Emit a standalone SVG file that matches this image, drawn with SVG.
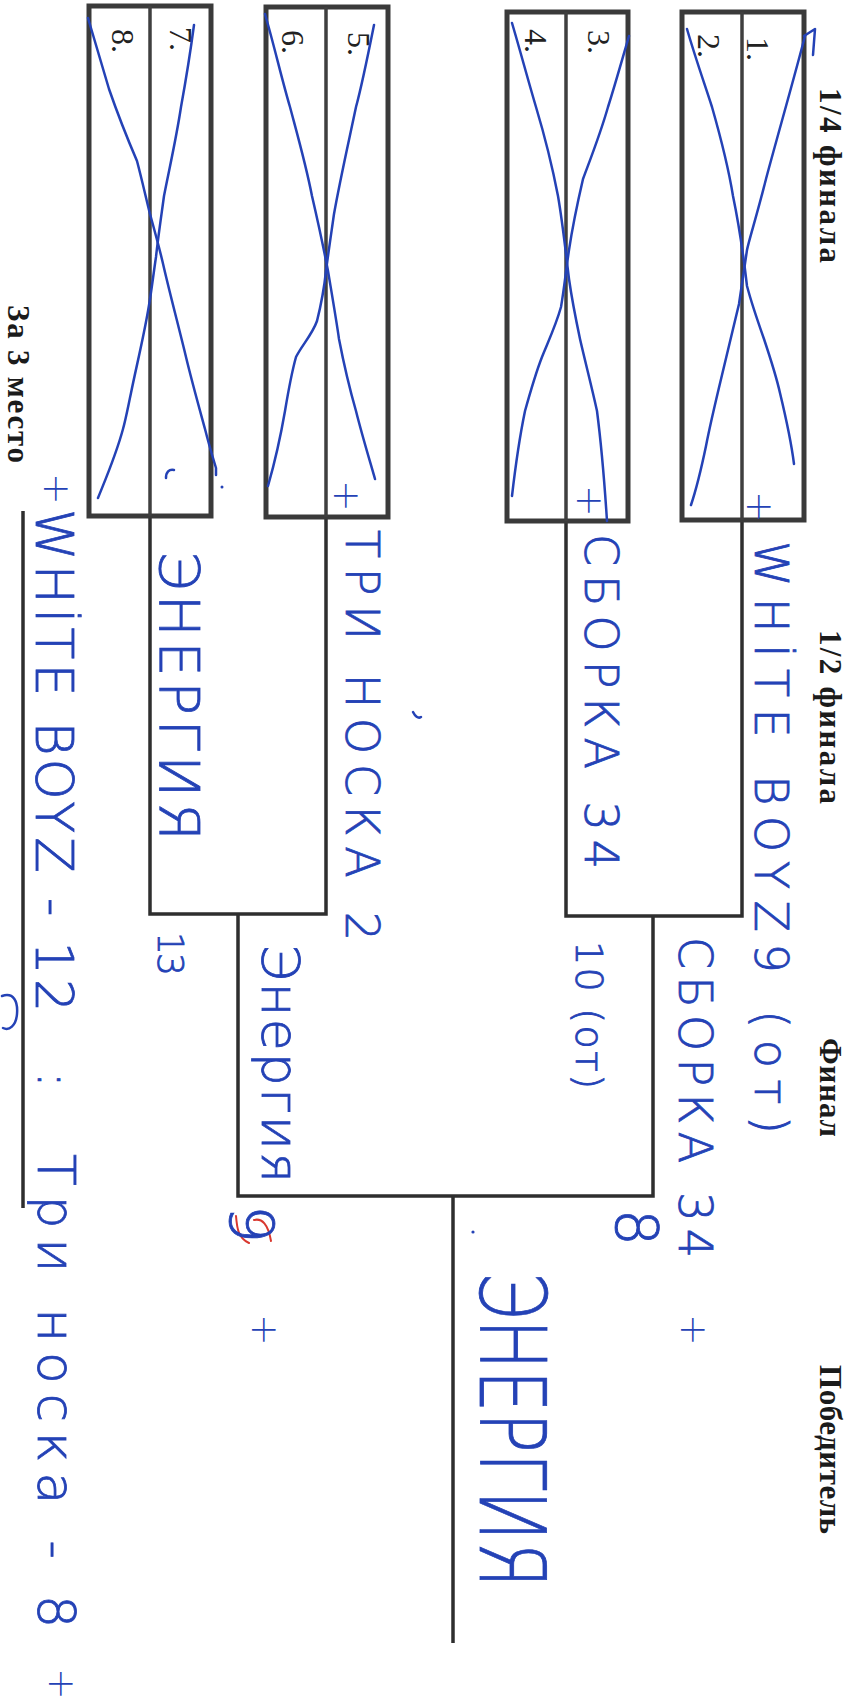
<svg xmlns="http://www.w3.org/2000/svg" width="858" height="1698" viewBox="0 0 858 1698">
<style>
.box{fill:none;stroke:#3a3a3a;stroke-width:5}
.dv{stroke:#3f3f3f;stroke-width:3.5}
.ln{fill:none;stroke:#2e2e2e;stroke-width:3.5}
.hdr{font-family:"Liberation Serif",serif;font-weight:bold;font-size:31px;fill:#1b1b1b}
.num{font-family:"Liberation Serif",serif;font-size:32px;fill:#222}
.hw{font-family:"DejaVu Sans","Liberation Sans",sans-serif;font-weight:200;fill:#2442b6;stroke:#2442b6;stroke-width:0.8}
.pl{font-family:"DejaVu Sans","Liberation Sans",sans-serif;font-weight:200;fill:#2442b6;font-size:38px}
.pen{fill:none;stroke:#2442b6;stroke-width:2.5;stroke-linecap:round;stroke-linejoin:round}
</style>
<rect width="858" height="1698" fill="#ffffff"/>

<g id="headers">
<text class="hdr" transform="translate(820,88) rotate(90)" textLength="175">1/4  финала</text>
<text class="hdr" transform="translate(820,630) rotate(90)" textLength="174">1/2  финала</text>
<text class="hdr" transform="translate(820,1038) rotate(90)" textLength="99">Финал</text>
<text class="hdr" transform="translate(820,1365) rotate(90)" textLength="169">Победитель</text>
<text class="hdr" transform="translate(8,305) rotate(90)" textLength="158">За  3 место</text>
</g>

<g id="connectors">
<polyline class="ln" points="742,520 742,916 566,916 566,521"/>
<polyline class="ln" points="326,517 326,914 150,914 150,516"/>
<polyline class="ln" points="653,916 653,1196 238,1196 238,914"/>
<line class="ln" x1="453" y1="1196" x2="453" y2="1643"/>
<line class="ln" x1="23" y1="511" x2="23" y2="1208"/>
</g>

<g id="match-1-2">
<rect class="box" x="682" y="12" width="122" height="508"/>
<line class="dv" x1="742" y1="12" x2="742" y2="520"/>
<text class="num" transform="translate(747,37) rotate(90)">1.</text>
<text class="num" transform="translate(698,34) rotate(90)">2.</text>
</g>
<g id="match-3-4">
<rect class="box" x="507" y="12" width="121" height="509"/>
<line class="dv" x1="566" y1="12" x2="566" y2="521"/>
<text class="num" transform="translate(588,30) rotate(90)">3.</text>
<text class="num" transform="translate(525,29) rotate(90)">4.</text>
</g>
<g id="match-5-6">
<rect class="box" x="266" y="7" width="122" height="510"/>
<line class="dv" x1="326" y1="7" x2="326" y2="517"/>
<text class="num" transform="translate(348,32) rotate(90)">5.</text>
<text class="num" transform="translate(282,30) rotate(90)">6.</text>
</g>
<g id="match-7-8">
<rect class="box" x="89" y="6" width="122" height="510"/>
<line class="dv" x1="150" y1="6" x2="150" y2="516"/>
<text class="num" transform="translate(170,27) rotate(90)">7.</text>
<text class="num" transform="translate(112,29) rotate(90)">8.</text>
</g>

<g id="pen-marks">
<path class="pen" d="M804,36 L815,29 L813,55"/>
<path class="pen" d="M805,36 C795,75 775,145 766,179 C757,215 749,240 747,250 C744,270 741,290 739,304 C733,330 727,355 722,375 C716,400 710,425 706,446 C701,470 696,490 691,505"/>
<path class="pen" d="M687,29 C696,60 705,85 712,107 C720,135 728,165 733,196 C739,225 744,260 747,286 C752,305 758,322 764,339 C770,357 776,375 780,393 C786,418 791,440 794,464"/>
<path class="pen" d="M629,36 C622,60 615,85 608,107 C600,135 590,160 583,179 C577,205 572,230 569,250 C566,270 564,290 561,307 C556,325 548,342 542,357 C535,375 530,393 525,411 C519,440 515,470 512,496"/>
<path class="pen" d="M512,23 C520,50 528,80 536,107 C545,137 552,165 558,196 C563,225 566,255 569,279 C572,300 576,320 580,339 C586,365 592,388 597,411 C602,450 605,490 607,521"/>
<path class="pen" d="M374,25 C368,55 362,85 356,107 C348,145 340,180 334,214 C331,235 328,255 326,271 C324,290 321,305 317,321 C312,335 302,345 296,357 C291,375 288,393 285,411 C280,440 274,465 268,486"/>
<path class="pen" d="M265,14 C274,45 282,80 290,107 C298,137 306,165 312,196 C318,222 324,250 328,271 C332,295 336,318 339,339 C344,365 350,390 356,411 C362,435 369,458 375,479"/>
<path class="pen" d="M194,25 C190,55 185,85 181,107 C176,140 169,170 164,196 C161,218 158,238 156,257 C153,277 151,295 148,311 C143,340 136,368 131,393 C128,407 126,418 123,429 C116,455 106,478 98,498"/>
<path class="pen" d="M88,18 C95,42 102,65 109,89 C118,115 128,140 137,161 C142,180 146,198 150,214 C155,232 160,250 164,268 C171,298 179,328 186,357 C192,382 199,407 205,429 C209,445 213,458 216,468 L216,475"/>
<path class="pen" d="M166,478 C166,472 169,469 174,470"/>
<circle cx="222" cy="487" r="1.5" fill="#2442b6"/>
<path class="pen" d="M413,712 C415,716 418,719 421,717"/>
<circle cx="473" cy="1232" r="1.6" fill="#2442b6"/>
<path class="pen" d="M2,996 C14,992 18,1002 17,1014 C16,1026 9,1031 3,1028"/>
<path class="pen" d="M236,1216 C237,1228 238,1238 249,1243 M254,1220 C262,1218 268,1224 271,1241" style="stroke:#d9382f;stroke-width:2"/>
</g>

<g id="handwriting">
<text class="pl" transform="translate(747,491) rotate(90)">+</text>
<text class="pl" transform="translate(577,485) rotate(90)">+</text>
<text class="pl" transform="translate(334,480) rotate(90)">+</text>
<text class="pl" transform="translate(44,473) rotate(90)">+</text>

<text class="hw" font-size="46" transform="translate(755,541) rotate(90)" textLength="593">WHİTE BOYZ9 (от)</text>
<text class="hw" font-size="46" transform="translate(585,534) rotate(90)" textLength="335">СБОРКА 34</text>
<text class="hw" font-size="38" transform="translate(576,941) rotate(90)" textLength="148">10 (от)</text>
<text class="hw" font-size="46" transform="translate(679,937) rotate(90)" textLength="321">СБОРКА 34</text>
<text class="pl" transform="translate(681,1314) rotate(90)">+</text>
<text class="hw" font-size="58" transform="translate(616,1209) rotate(90)" textLength="31">8</text>
<text class="hw" font-size="90" transform="translate(480,1272) rotate(90)" textLength="316" lengthAdjust="spacingAndGlyphs">ЭНЕРГИЯ</text>

<text class="hw" font-size="46" transform="translate(346,530) rotate(90)" textLength="411">ТРИ НОСКА 2</text>
<text class="hw" font-size="56" transform="translate(160,551) rotate(90)" textLength="290">ЭНЕРГИЯ</text>
<text class="hw" font-size="36" transform="translate(158,932) rotate(90)" textLength="44">13</text>
<text class="hw" font-size="52" transform="translate(262,944) rotate(90)" textLength="239">Энергия</text>
<text class="hw" font-size="60" transform="translate(230,1205) rotate(90)" textLength="42">9</text>
<text class="pl" transform="translate(252,1314) rotate(90)">+</text>

<text class="hw" font-size="52" transform="translate(36,509) rotate(90)" textLength="503">WHİTE BOYZ - 12</text>
<text class="hw" font-size="46" transform="translate(38,1072) rotate(90)">:</text>
<text class="hw" font-size="52" transform="translate(38,1154) rotate(90)" textLength="474">Три носка - 8</text>
<text class="pl" transform="translate(49,1668) rotate(90)">+</text>
</g>
</svg>
